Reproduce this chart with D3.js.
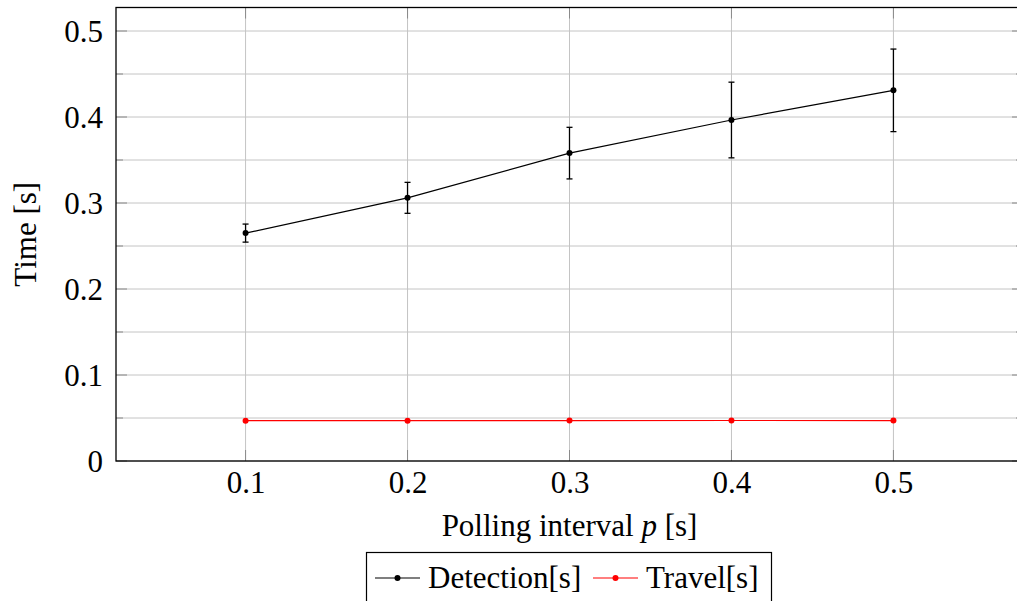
<!DOCTYPE html>
<html>
<head>
<meta charset="utf-8">
<script src="https://cdn.jsdelivr.net/npm/d3@7"></script>
<style>
body { margin: 0; background: #fff; }
svg { display: block; }
text { font-family: "Liberation Serif", "DejaVu Serif", serif; }
</style>
</head>
<body>
<svg width="1017" height="601"></svg>
<script>
// polling intervals (x) and measured times (y)
var intervals = [0.1, 0.2, 0.3, 0.4, 0.5];
var detection = [0.265, 0.306, 0.358, 0.3965, 0.431];
var detectionErr = [0.0105, 0.018, 0.030, 0.044, 0.048];
var travel = [0.0469, 0.0469, 0.047, 0.0471, 0.047];

var xTicks = [0.1, 0.2, 0.3, 0.4, 0.5];
var yTicks = [0, 0.1, 0.2, 0.3, 0.4, 0.5];
var yMinor = [0.05, 0.15, 0.25, 0.35, 0.45];

var svg = d3.select("svg"),
    pLeft = 116, pRight = 1023, pTop = 7.5, pBottom = 461;

var x = d3.scaleLinear().domain([0.02, 0.58]).range([pLeft, pRight]);
var yMax = (pBottom - pTop) / 860;
var y = d3.scaleLinear().domain([0, yMax]).range([pBottom, pTop]);

// grid lines
var grid = svg.append("g").attr("stroke", "#c4c4c4").attr("stroke-width", 1);
grid.selectAll(".gy")
  .data(yTicks.concat(yMinor))
  .enter().append("line")
  .attr("x1", pLeft).attr("x2", pRight)
  .attr("y1", function(d) { return y(d); })
  .attr("y2", function(d) { return y(d); });
grid.selectAll(".gx")
  .data(xTicks)
  .enter().append("line")
  .attr("y1", pTop).attr("y2", pBottom)
  .attr("x1", function(d) { return x(d); })
  .attr("x2", function(d) { return x(d); });

// inward ticks on all four sides
var ticks = svg.append("g").attr("stroke", "#8a8a8a").attr("stroke-width", 1);
yTicks.forEach(function(d) {
  ticks.append("line").attr("x1", pLeft).attr("x2", pLeft + 11).attr("y1", y(d)).attr("y2", y(d));
  ticks.append("line").attr("x1", pRight).attr("x2", pRight - 11).attr("y1", y(d)).attr("y2", y(d));
});
yMinor.forEach(function(d) {
  ticks.append("line").attr("x1", pLeft).attr("x2", pLeft + 7).attr("y1", y(d)).attr("y2", y(d));
  ticks.append("line").attr("x1", pRight).attr("x2", pRight - 7).attr("y1", y(d)).attr("y2", y(d));
});
xTicks.forEach(function(d) {
  ticks.append("line").attr("y1", pBottom).attr("y2", pBottom - 11).attr("x1", x(d)).attr("x2", x(d));
  ticks.append("line").attr("y1", pTop).attr("y2", pTop + 11).attr("x1", x(d)).attr("x2", x(d));
});

// frame
svg.append("rect")
  .attr("x", pLeft).attr("y", pTop)
  .attr("width", pRight - pLeft).attr("height", pBottom - pTop)
  .attr("fill", "none").attr("stroke", "#000").attr("stroke-width", 1.3);

// tick labels via d3 axes
var yAxis = svg.append("g")
  .attr("transform", "translate(" + pLeft + ",0)")
  .call(d3.axisLeft(y).tickValues(yTicks).tickSize(0).tickPadding(13)
    .tickFormat(function(d) { return d === 0 ? "0" : d3.format(".1f")(d); }));
yAxis.select(".domain").remove();
yAxis.selectAll("text").attr("font-size", "31px").attr("fill", "#000")
  .attr("font-family", "Liberation Serif, serif").attr("dy", "0.34em");

var xAxis = svg.append("g")
  .attr("transform", "translate(0," + pBottom + ")")
  .call(d3.axisBottom(x).tickValues(xTicks).tickSize(0).tickPadding(10)
    .tickFormat(d3.format(".1f")));
xAxis.select(".domain").remove();
xAxis.selectAll("text").attr("font-size", "31px").attr("fill", "#000")
  .attr("font-family", "Liberation Serif, serif");

// axis titles
var xt = svg.append("text")
  .attr("x", (pLeft + pRight) / 2).attr("y", 536)
  .attr("text-anchor", "middle").attr("font-size", "31px");
xt.append("tspan").text("Polling interval ");
xt.append("tspan").attr("font-style", "italic").text("p");
xt.append("tspan").text(" [s]");

svg.append("text")
  .attr("transform", "translate(36," + ((pTop + pBottom) / 2) + ") rotate(-90)")
  .attr("text-anchor", "middle").attr("font-size", "31px")
  .text("Time [s]");

// series
var line = d3.line()
  .x(function(d) { return x(d[0]); })
  .y(function(d) { return y(d[1]); });

var detData = intervals.map(function(v, i) { return [v, detection[i], detectionErr[i]]; });
var travData = intervals.map(function(v, i) { return [v, travel[i]]; });

svg.append("path").datum(travData)
  .attr("d", line).attr("fill", "none").attr("stroke", "#ff0000").attr("stroke-width", 1.2);
svg.selectAll(".tdot").data(travData).enter().append("circle")
  .attr("cx", function(d) { return x(d[0]); })
  .attr("cy", function(d) { return y(d[1]); })
  .attr("r", 3).attr("fill", "#ff0000");

svg.append("path").datum(detData)
  .attr("d", line).attr("fill", "none").attr("stroke", "#000").attr("stroke-width", 1.2);

var err = svg.append("g").attr("stroke", "#000").attr("stroke-width", 1.3);
detData.forEach(function(d) {
  var cx = x(d[0]), y1 = y(d[1] + d[2]), y2 = y(d[1] - d[2]);
  err.append("line").attr("x1", cx).attr("x2", cx).attr("y1", y1).attr("y2", y2);
  err.append("line").attr("x1", cx - 3).attr("x2", cx + 3).attr("y1", y1).attr("y2", y1);
  err.append("line").attr("x1", cx - 3).attr("x2", cx + 3).attr("y1", y2).attr("y2", y2);
});
svg.selectAll(".ddot").data(detData).enter().append("circle")
  .attr("cx", function(d) { return x(d[0]); })
  .attr("cy", function(d) { return y(d[1]); })
  .attr("r", 3).attr("fill", "#000");

// legend
var lg = svg.append("g");
lg.append("rect")
  .attr("x", 366.5).attr("y", 552.5).attr("width", 405).attr("height", 60)
  .attr("fill", "#fff").attr("stroke", "#000").attr("stroke-width", 1.2);
var entries = [
  { name: "Detection[s]", color: "#000", x0: 375 },
  { name: "Travel[s]", color: "#ff0000", x0: 593 }
];
entries.forEach(function(e) {
  lg.append("line").attr("x1", e.x0).attr("x2", e.x0 + 45).attr("y1", 578).attr("y2", 578)
    .attr("stroke", e.color).attr("stroke-width", 1.2);
  lg.append("circle").attr("cx", e.x0 + 22.5).attr("cy", 578).attr("r", 3).attr("fill", e.color);
  lg.append("text").attr("x", e.x0 + 53).attr("y", 588).attr("font-size", "31px").text(e.name);
});
</script>
</body>
</html>
